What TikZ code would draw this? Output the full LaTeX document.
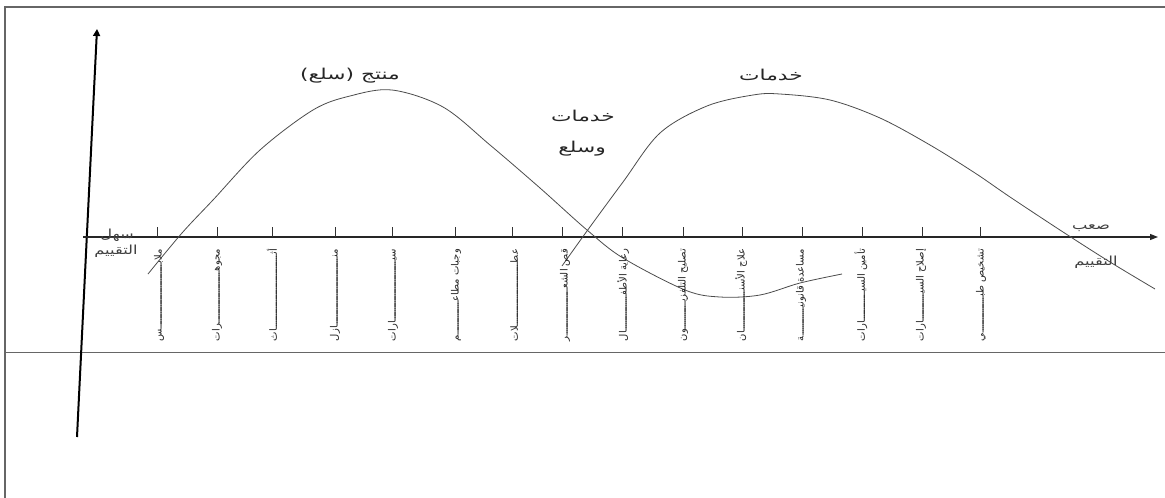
\documentclass[tikz,border=0pt]{standalone}
\usepackage{fontspec}
\setmainfont{Liberation Serif}
\newfontfamily\arabicfont[Script=Arabic]{DejaVu Sans}
\TeXXeTstate=1
\usetikzlibrary{arrows.meta}
\newcommand\vtxt[2]{\hbox to 92pt{\beginR #1\xleaders\hbox{\kern-0.6pt ـ\kern-0.6pt}\hfill #2\endR}}
\begin{document}
\begin{tikzpicture}[x=1pt,y=-1pt,
  lbl/.style={font=\arabicfont\fontsize{15}{17}\selectfont, inner sep=0pt, text=black!85, xscale=1.45},
  endlbl/.style={font=\arabicfont\fontsize{12.5}{14}\selectfont, inner sep=0pt, text=black!75, xscale=1.3},
  vlbl/.style={font=\arabicfont\fontsize{10}{12}\selectfont, rotate=90, inner sep=0pt, text=black!85},
  curve/.style={draw=black!70, line width=0.8pt},
  tickmark/.style={draw=black!80, line width=1pt},
  frame/.style={draw=black!60, line width=1.3pt},
  axis/.style={draw=black!85, line width=1.3pt}]
\useasboundingbox (0,0) rectangle (1165,498);
% frame
\draw[frame] (5,498) -- (5,7) -- (1165,7);
\draw[draw=black!60, line width=1pt] (5,352) -- (1165,352);
% axes
\coordinate (vb) at (77,437);
\coordinate (vt) at (97,29);
\draw[draw=black, line width=2pt, -{Triangle[length=7pt,width=7pt]}] (vb) -- (vt);
\coordinate (hl) at (83,237);
\coordinate (hr) at (1158,237);
\draw[axis, -{Triangle[length=8pt,width=6pt]}] (hl) -- (hr);
% ticks
\foreach \x in {157,217,272,335,392,455,512,562,622,683,742,802,862,922,980}
  \draw[tickmark] (\x,237) -- (\x,227);
% curves
\draw[curve] plot[smooth, tension=0.55] coordinates {(148,274) (182,233) (213,200) (260,150) (313,110) (350,96) (392,90) (443,107) (490,145) (540,188) (587,230) (623,258) (685,290) (720,297) (760,295) (800,283) (842,274)};
\draw[curve] plot[smooth, tension=0.55] coordinates {(562,266) (587,231) (623,182) (660,133) (707,106) (753,95) (780,94) (830,100) (880,118) (930,145) (975,173) (1010,197) (1063,232) (1110,262) (1155,289)};
% titles
\node[lbl] (goods) at (350,76) {\beginR منتج (سلع)\endR};
\node[lbl] (serv) at (771,75) {\beginR خدمات\endR};
\node[lbl] (mix1) at (583,116) {\beginR خدمات\endR};
\node[lbl] (mix2) at (582,149) {\beginR وسلع\endR};
% axis ends
\node[endlbl] (easy1) at (117,235) {\beginR سهل\endR};
\node[endlbl] (easy2) at (116,251) {\beginR التقييم\endR};
\node[endlbl] (hard1) at (1091,228) {\beginR صعب\endR};
\node[endlbl] (hard2) at (1096,262) {\beginR التقييم\endR};
% vertical labels
\node[vlbl] (l1) at (159,295) {\vtxt{ملابـ}{ـس}};
\node[vlbl] (l2) at (217,295) {\vtxt{مجوهـ}{ـرات}};
\node[vlbl] (l3) at (272,295) {\vtxt{أثـ}{ـاث}};
\node[vlbl] (l4) at (335,295) {\vtxt{منـ}{ـازل}};
\node[vlbl] (l5) at (393,295) {\vtxt{سيـ}{ـارات}};
\node[vlbl] (l6) at (456,295) {\vtxt{وجبات مطاعـ}{ـم}};
\node[vlbl] (l7) at (514,295) {\vtxt{عطـ}{ـلات}};
\node[vlbl] (l8) at (565,295) {\vtxt{قص الشعـ}{ـر}};
\node[vlbl] (l9) at (623,295) {\vtxt{رعاية الأطفـ}{ـال}};
\node[vlbl] (l10) at (683,295) {\vtxt{تصليح التلفزيـ}{ـون}};
\node[vlbl] (l11) at (741,295) {\vtxt{علاج الأسنـ}{ـان}};
\node[vlbl] (l12) at (801,295) {\vtxt{مساعدة قانونيـ}{ـة}};
\node[vlbl] (l13) at (861,295) {\vtxt{تأمين السيـ}{ـارات}};
\node[vlbl] (l14) at (921,295) {\vtxt{إصلاح السيـ}{ـارات}};
\node[vlbl] (l15) at (981,295) {\vtxt{تشخيص طبـ}{ـي}};
\end{tikzpicture}
\end{document}
